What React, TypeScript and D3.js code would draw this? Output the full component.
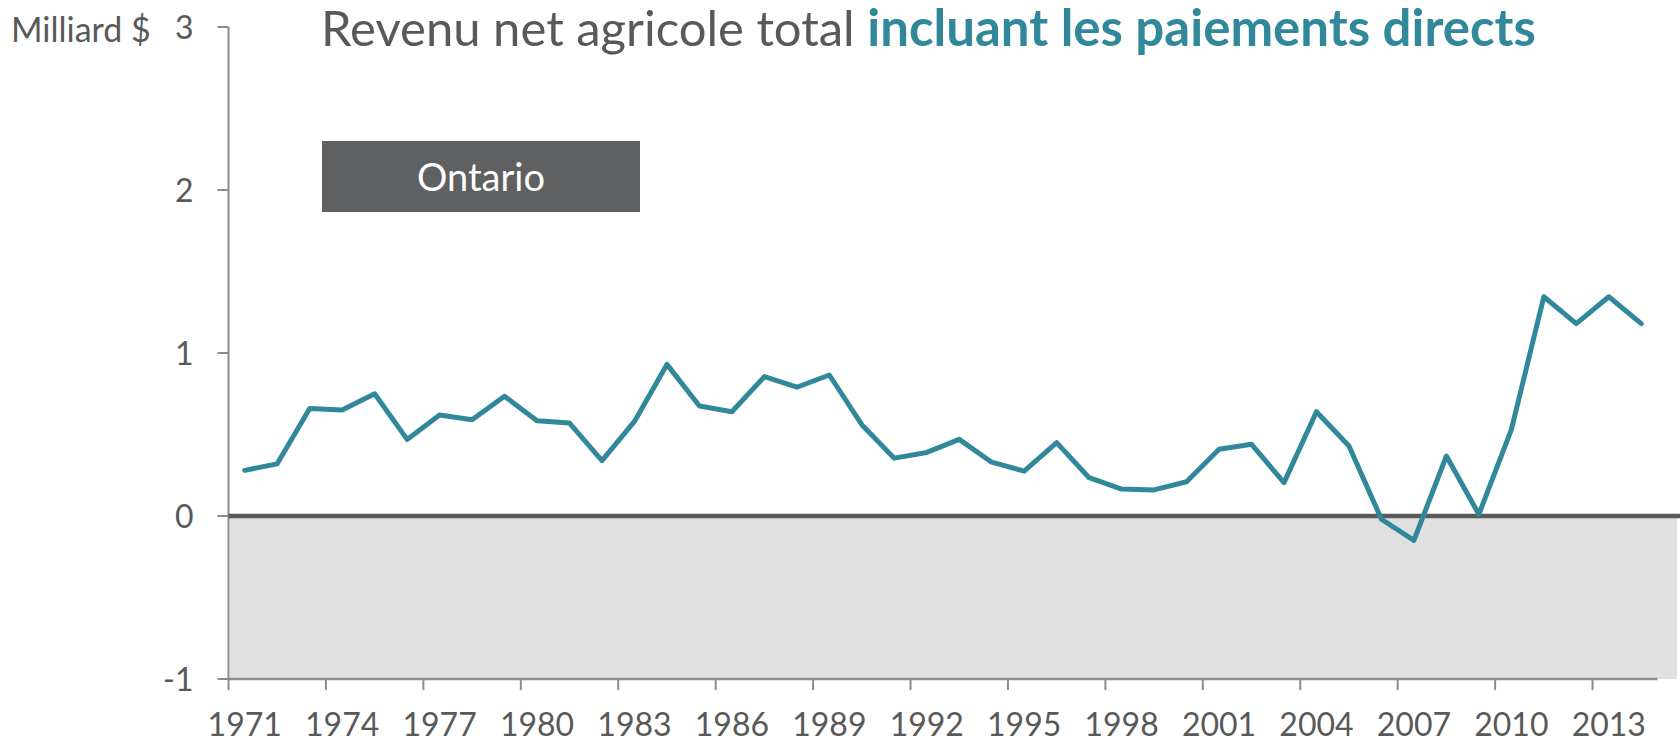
import React, { useEffect, useRef } from 'react';
import * as d3 from 'd3';

const years = [
  1971, 1972, 1973, 1974, 1975, 1976, 1977, 1978, 1979, 1980, 1981,
  1982, 1983, 1984, 1985, 1986, 1987, 1988, 1989, 1990, 1991, 1992,
  1993, 1994, 1995, 1996, 1997, 1998, 1999, 2000, 2001, 2002, 2003,
  2004, 2005, 2006, 2007, 2008, 2009, 2010, 2011, 2012, 2013, 2014,
];

// Milliard $
const netIncome = [
  0.28, 0.32, 0.66, 0.65, 0.75, 0.47, 0.62, 0.59, 0.735, 0.585, 0.57,
  0.34, 0.58, 0.93, 0.675, 0.64, 0.855, 0.79, 0.865, 0.56, 0.355, 0.39,
  0.47, 0.33, 0.275, 0.45, 0.235, 0.165, 0.16, 0.21, 0.41, 0.44, 0.205,
  0.64, 0.43, -0.02, -0.15, 0.368, 0.01, 0.53, 1.345, 1.18, 1.345, 1.18,
];

const xTickYears = [1971, 1974, 1977, 1980, 1983, 1986, 1989, 1992, 1995, 1998, 2001, 2004, 2007, 2010, 2013];
const yTicks = [-1, 0, 1, 2, 3];

const titleGray = 'Revenu net agricole total ';
const titleTeal = 'incluant les paiements directs';
const unitLabel = 'Milliard $';
const regionLabel = 'Ontario';

const W = 1680;
const H = 743;
const teal = '#31889b';
const textGray = '#595959';
const font = 'Lato, "Open Sans", sans-serif';

export default function App() {
  const ref = useRef<SVGSVGElement>(null);

  useEffect(() => {
    const svg = d3.select(ref.current);
    svg.selectAll('*').remove();

    const x = d3.scaleBand<number>().domain(years).range([228.5, 1657.5]).padding(0);
    const y = d3.scaleLinear().domain([-1, 3]).range([679, 27]);
    const bw = x.bandwidth();

    // shaded negative region
    svg.append('rect')
      .attr('x', 230)
      .attr('y', y(0))
      .attr('width', 1677 - 230)
      .attr('height', y(-1) - y(0))
      .attr('fill', '#e0e0e0');

    // y axis
    const yAxis = svg.append('g').attr('transform', `translate(${x.range()[0]},0)`);
    yAxis.append('line')
      .attr('y1', y(3)).attr('y2', y(-1))
      .attr('stroke', '#8c8c8c').attr('stroke-width', 2);
    yAxis.selectAll('line.tick')
      .data(yTicks)
      .enter().append('line')
      .attr('class', 'tick')
      .attr('x1', -11).attr('x2', 0)
      .attr('y1', d => y(d)).attr('y2', d => y(d))
      .attr('stroke', '#8c8c8c').attr('stroke-width', 2);
    yAxis.selectAll('text')
      .data(yTicks)
      .enter().append('text')
      .attr('x', -35)
      .attr('y', d => y(d))
      .attr('dy', '0.36em')
      .attr('text-anchor', 'end')
      .attr('font-family', font)
      .attr('font-size', 32)
      .attr('fill', textGray)
      .text(d => d);

    // x axis
    const xAxis = svg.append('g').attr('transform', `translate(0,${y(-1)})`);
    xAxis.append('line')
      .attr('x1', x.range()[0]).attr('x2', x.range()[1])
      .attr('stroke', '#8c8c8c').attr('stroke-width', 2.5);
    xAxis.selectAll('line.tick')
      .data(xTickYears)
      .enter().append('line')
      .attr('class', 'tick')
      .attr('x1', d => x(d)!).attr('x2', d => x(d)!)
      .attr('y1', 0).attr('y2', 11)
      .attr('stroke', '#8c8c8c').attr('stroke-width', 2);
    xAxis.selectAll('text')
      .data(xTickYears)
      .enter().append('text')
      .attr('x', d => x(d)! + bw / 2)
      .attr('y', 57)
      .attr('text-anchor', 'middle')
      .attr('font-family', font)
      .attr('font-size', 32)
      .attr('fill', textGray)
      .text(d => d);

    // zero line
    svg.append('line')
      .attr('x1', x.range()[0]).attr('x2', W)
      .attr('y1', y(0)).attr('y2', y(0))
      .attr('stroke', '#595959').attr('stroke-width', 4.5);

    // series
    const line = d3.line<number>()
      .x((_, i) => x(years[i])! + bw / 2)
      .y(d => y(d));
    svg.append('path')
      .datum(netIncome)
      .attr('d', line)
      .attr('fill', 'none')
      .attr('stroke', teal)
      .attr('stroke-width', 5)
      .attr('stroke-linejoin', 'round')
      .attr('stroke-linecap', 'round');

    // unit label
    svg.append('text')
      .attr('x', 11).attr('y', 42)
      .attr('font-family', font)
      .attr('font-size', 34)
      .attr('fill', textGray)
      .text(unitLabel);

    // title
    const title = svg.append('text')
      .attr('x', 321).attr('y', 46)
      .attr('font-family', font)
      .attr('fill', textGray);
    title.append('tspan').attr('font-size', 49).text(titleGray);
    title.append('tspan')
      .attr('font-size', 51)
      .attr('fill', teal)
      .attr('font-weight', 'bold')
      .text(titleTeal);

    // region box
    svg.append('rect')
      .attr('x', 322).attr('y', 141)
      .attr('width', 318).attr('height', 71)
      .attr('fill', '#5f6062');
    svg.append('text')
      .attr('x', 481).attr('y', 177)
      .attr('dy', '0.36em')
      .attr('text-anchor', 'middle')
      .attr('font-family', font)
      .attr('font-size', 38)
      .attr('fill', '#ffffff')
      .text(regionLabel);
  }, []);

  return (
    <svg ref={ref} width={W} height={H} style={{ display: 'block', position: 'absolute', left: 0, top: 0 }} />
  );
}
